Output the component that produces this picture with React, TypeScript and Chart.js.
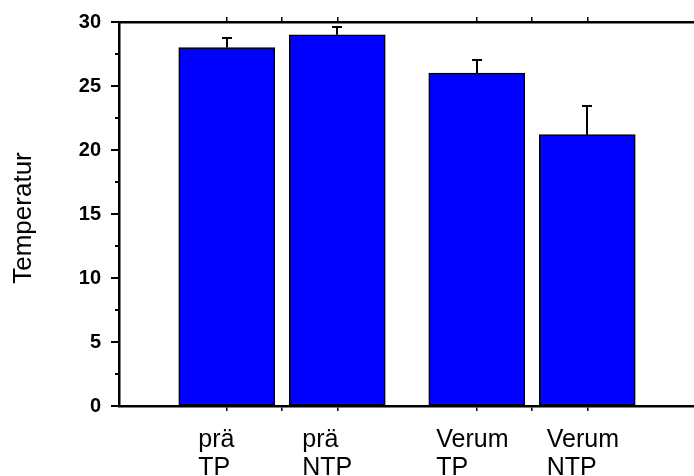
import React, { useEffect, useRef } from "react";
import { Chart, registerables } from "chart.js";

Chart.register(...registerables);

const groups = ["prä", "Verum"];
const conditions = ["TP", "NTP"];
const categoryLabels: string[][] = [
  ["prä", "TP"],
  ["prä", "NTP"],
  ["Verum", "TP"],
  ["Verum", "NTP"],
];
const values = [28.0, 29.0, 26.0, 21.2];
const errors = [0.75, 0.6, 1.0, 2.2];
const yTickValues = [0, 5, 10, 15, 20, 25, 30];
const yMinorTicks = [2.5, 7.5, 12.5, 17.5, 22.5, 27.5];
const yTitle = "Temperatur";

const BAR_OFFSET = 0.221;
const labelShift = [-28.5, -35, -40.5, -40.5];

export default function App() {
  const ref = useRef<HTMLCanvasElement | null>(null);

  useEffect(() => {
    document.body.style.margin = "0";
    document.body.style.overflow = "hidden";
    const canvas = ref.current;
    if (!canvas) return;

    const xPos: number[] = [];
    groups.forEach((_, gi) => {
      conditions.forEach((_, ci) => {
        xPos.push(gi + 1 + (ci === 0 ? -BAR_OFFSET : BAR_OFFSET));
      });
    });
    const xTickVals = [...xPos, 1, 2].sort((a, b) => a - b);

    const data = values.map((v, i) => ({ x: xPos[i], y: v }));

    const overlay = {
      id: "overlay",
      afterDatasetsDraw(chart: any) {
        const ctx = chart.ctx;
        const xs = chart.scales.x;
        const ys = chart.scales.y;
        ctx.save();
        ctx.strokeStyle = "#000";
        ctx.lineWidth = 2;
        values.forEach((v, i) => {
          const cx = Math.round(xs.getPixelForValue(xPos[i]));
          const y0 = ys.getPixelForValue(v);
          const y1 = Math.round(ys.getPixelForValue(v + errors[i]));
          ctx.beginPath();
          ctx.moveTo(cx, y0);
          ctx.lineTo(cx, y1);
          ctx.moveTo(cx - 5, y1);
          ctx.lineTo(cx + 5, y1);
          ctx.stroke();
        });
        ctx.restore();
      },
      afterDraw(chart: any) {
        const ctx = chart.ctx;
        const xs = chart.scales.x;
        const ys = chart.scales.y;
        const area = chart.chartArea;
        ctx.save();
        ctx.strokeStyle = "#000";
        ctx.lineWidth = 2;
        yMinorTicks.forEach((t) => {
          const y = Math.round(ys.getPixelForValue(t));
          ctx.beginPath();
          ctx.moveTo(area.left - 4, y);
          ctx.lineTo(area.left, y);
          ctx.stroke();
        });
        ctx.fillStyle = "#000";
        ctx.font = '25px "Liberation Sans", Arial, sans-serif';
        ctx.textAlign = "left";
        ctx.textBaseline = "alphabetic";
        categoryLabels.forEach((lines, i) => {
          const cx = xs.getPixelForValue(xPos[i]) + labelShift[i];
          lines.forEach((ln, li) => {
            ctx.fillText(ln, cx, area.bottom + 41 + li * 28);
          });
        });
        ctx.translate(24, 218);
        ctx.rotate(-Math.PI / 2);
        ctx.textAlign = "center";
        ctx.textBaseline = "middle";
        ctx.font = '26px "Liberation Sans", Arial, sans-serif';
        ctx.fillText(yTitle, 0, 0);
        ctx.restore();
      },
    };

    const xCommon = (pos: "top" | "bottom", h: number) => ({
      type: "linear" as const,
      position: pos,
      min: 0.348,
      max: 2.648,
      offset: false,
      afterBuildTicks: (scale: any) => {
        scale.ticks = xTickVals.map((v) => ({ value: v }));
      },
      afterFit: (scale: any) => {
        scale.height = h;
      },
      ticks: { callback: () => "", padding: 0 },
      grid: {
        offset: false,
        drawOnChartArea: false,
        drawTicks: true,
        tickLength: 5,
        color: "#000",
        lineWidth: 1.5,
      },
      border: { display: true, color: "#000", width: 2.5 },
    });

    const chart = new Chart(canvas, {
      type: "bar",
      data: {
        datasets: [
          {
            data: data as any,
            backgroundColor: "#0000FF",
            borderColor: "#000",
            borderWidth: 1.5,
            borderSkipped: false,
            barThickness: 96,
          },
        ],
      },
      options: {
        animation: false,
        responsive: false,
        layout: { padding: 0 },
        plugins: {
          legend: { display: false },
          tooltip: { enabled: false },
        },
        scales: {
          x: xCommon("bottom", 70) as any,
          x2: xCommon("top", 22) as any,
          y: {
            type: "linear",
            min: 0,
            max: 30,
            afterBuildTicks: (scale: any) => {
              scale.ticks = yTickValues.map((v) => ({ value: v }));
            },
            afterFit: (scale: any) => {
              scale.width = 119;
            },
            ticks: {
              padding: 10,
              color: "#000",
              font: {
                family: '"Liberation Sans", Arial, sans-serif',
                size: 20,
                weight: "bold",
              },
            },
            grid: {
              drawOnChartArea: false,
              drawTicks: true,
              tickLength: 8,
              color: "#000",
              lineWidth: 2,
            },
            border: { display: true, color: "#000", width: 2.5 },
          },
        },
      },
      plugins: [overlay],
    });

    return () => chart.destroy();
  }, []);

  return (
    <canvas
      ref={ref}
      width={694}
      height={476}
      style={{ display: "block", width: 694, height: 476 }}
    />
  );
}
